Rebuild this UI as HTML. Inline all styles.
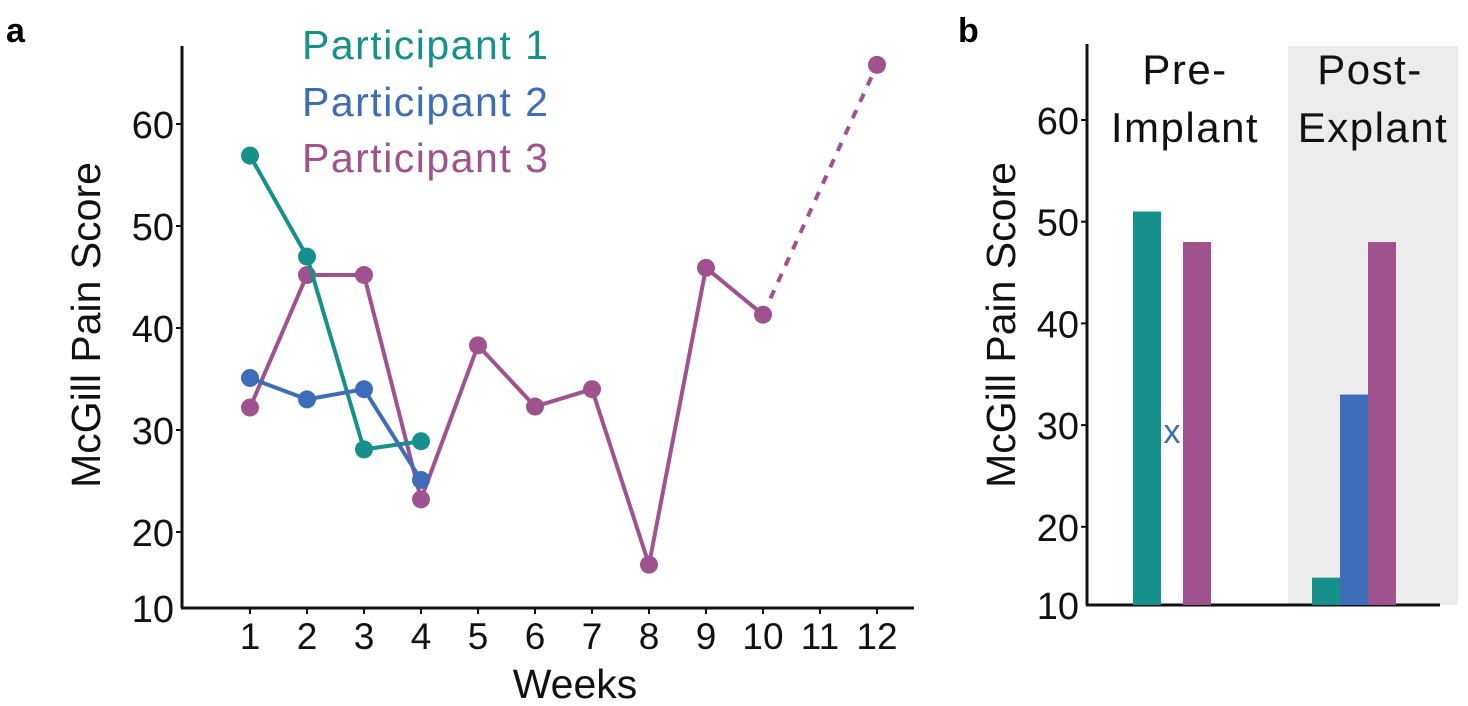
<!DOCTYPE html>
<html><head><meta charset="utf-8"><style>
html,body{margin:0;padding:0;background:#fff;}
svg{display:block;font-family:"Liberation Sans",sans-serif;}
</style></head><body>
<svg id="fig" width="1468" height="706" viewBox="0 0 1468 706">
<text x="6" y="42" font-size="34" font-weight="bold">a</text>
<text x="958" y="42" font-size="34" font-weight="bold">b</text>
<g id="pa"></g>
<g id="pb"></g>
</svg>
<script>
// Panel a data
const weeks = [1,2,3,4,5,6,7,8,9,10,11,12];
const p1Weeks = [1,2,3,4];
const p1Values = [56.9,47,28.1,28.9];
const p2Weeks = [1,2,3,4];
const p2Values = [35.1,33,34,25.1];
const p3Weeks = [1,2,3,4,5,6,7,8,9,10];
const p3Values = [32.2,45.2,45.2,23.2,38.3,32.3,34,16.8,45.9,41.3];
const p3DashWeeks = [10,12];
const p3DashValues = [41.3,65.8];
const yTicksA = [60,50,40,30,20];
// Panel b data
const groups = ["Pre-Implant","Post-Explant"];
const barP1 = [51,15];
const barP2 = [null,33];
const barP3 = [48,48];
const missingP2 = [29.3,null];
const yTicksB = [60,50,40,30,20];

const NS="http://www.w3.org/2000/svg";
const C1="#16908a",C2="#3d6cb8",C3="#a0528f";
function mk(parent,tag,attrs,name){const e=document.createElementNS(NS,tag);for(const k in attrs)e.setAttribute(k,attrs[k]);


parent.appendChild(e);return e;}

// Panel a scales
const pa=document.getElementById('pa');
const xA=w=>250+(w-1)*57.0;
const yA=v=>124+(60-v)*10.2;
mk(pa,'line',{x1:182,y1:46,x2:182,y2:608,stroke:'#111','stroke-width':3},'y-axis-line');
mk(pa,'line',{x1:181,y1:608,x2:914,y2:608,stroke:'#111','stroke-width':3},'x-axis-line');
yTicksA.forEach(t=>{
 mk(pa,'line',{x1:176,y1:yA(t),x2:182,y2:yA(t),stroke:'#111','stroke-width':2},'y-tick');
 const tx=mk(pa,'text',{x:174,y:yA(t)+14,'font-size':38,'text-anchor':'end',fill:'#111'},'y-tick-label');tx.textContent=t;
});
const b10=mk(pa,'text',{x:174,y:622,'font-size':38,'text-anchor':'end',fill:'#111'},'y-tick-label');b10.textContent=10;
weeks.forEach(w=>{
 mk(pa,'line',{x1:xA(w),y1:608,x2:xA(w),y2:614,stroke:'#111','stroke-width':2},'x-tick');
 const tx=mk(pa,'text',{x:xA(w),y:649,'font-size':37,'text-anchor':'middle',fill:'#111'},'x-tick-label');tx.textContent=w;
});
const wt=mk(pa,'text',{x:575,y:698,'font-size':41,'text-anchor':'middle',fill:'#111'},'x-axis-title');wt.textContent='Weeks';
const yt=mk(pa,'text',{x:0,y:0,'font-size':41,'text-anchor':'middle',fill:'#111',transform:'translate(100,325) rotate(-90)'},'y-axis-title');yt.textContent='McGill Pain Score';
function series(ws,vs,col,name,dash){
 const pts=ws.map((w,i)=>xA(w)+','+yA(vs[i])).join(' ');
 const a={points:pts,fill:'none',stroke:col,'stroke-width':4,'stroke-linejoin':'round'};
 if(dash)a['stroke-dasharray']='9,9';
 mk(pa,'polyline',a,name+'-line');
 ws.forEach((w,i)=>{ if(dash&&i==0)return; mk(pa,'circle',{cx:xA(w),cy:yA(vs[i]),r:9,fill:col},name+'-point');});
}
series(p3DashWeeks,p3DashValues,C3,'participant-3-projection',true);
series(p3Weeks,p3Values,C3,'participant-3');
series(p1Weeks,p1Values,C1,'participant-1');
series(p2Weeks,p2Values,C2,'participant-2');
[['Participant 1',C1,59],['Participant 2',C2,116],['Participant 3',C3,172]].forEach(l=>{
 const t=mk(pa,'text',{x:302,y:l[2],'font-size':41,'letter-spacing':1.5,fill:l[1]},'legend-entry');t.textContent=l[0];
});

// Panel b
const pb=document.getElementById('pb');
const yB=v=>120+(60-v)*10.17;
const groupX=[1133,1312];
const groupStep=[25,28];
const bw=28;
mk(pb,'rect',{x:1288,y:46,width:170,height:559,fill:'#ececec'},'post-explant-background');
mk(pb,'line',{x1:1087,y1:44,x2:1087,y2:605,stroke:'#111','stroke-width':3},'y-axis-line-b');
mk(pb,'line',{x1:1086,y1:605,x2:1440,y2:605,stroke:'#111','stroke-width':3},'x-axis-line-b');
yTicksB.forEach(t=>{
 mk(pb,'line',{x1:1081,y1:yB(t),x2:1087,y2:yB(t),stroke:'#111','stroke-width':2},'y-tick-b');
 const tx=mk(pb,'text',{x:1079,y:yB(t)+14,'font-size':38,'text-anchor':'end',fill:'#111'},'y-tick-label-b');tx.textContent=t;
});
const b10b=mk(pb,'text',{x:1079,y:619,'font-size':38,'text-anchor':'end',fill:'#111'},'y-tick-label-b');b10b.textContent=10;
const ytb=mk(pb,'text',{x:0,y:0,'font-size':41,'text-anchor':'middle',fill:'#111',transform:'translate(1015,325) rotate(-90)'},'y-axis-title-b');ytb.textContent='McGill Pain Score';
const offs=[[barP1,C1,0,'participant-1-bar'],[barP2,C2,1,'participant-2-bar'],[barP3,C3,2,'participant-3-bar']];
groups.forEach((g,gi)=>{
 offs.forEach(o=>{
  const v=o[0][gi]; if(v==null)return;
  const x=groupX[gi]+o[2]*groupStep[gi];
  mk(pb,'rect',{x:x,y:yB(v),width:bw,height:605-yB(v),fill:o[1]},o[3]);
 });
 if(missingP2[gi]!=null){
  const t=mk(pb,'text',{x:groupX[gi]+groupStep[gi]+bw/2,y:yB(missingP2[gi])+11,'font-size':34,'text-anchor':'middle',fill:C2},'missing-participant-2-marker');t.textContent='x';
 }
});
[['Pre-',1185,84],['Implant',1185,142],['Post-',1370,84],['Explant',1373,142]].forEach(l=>{
 const t=mk(pb,'text',{x:l[1],y:l[2],'font-size':42,'letter-spacing':1.5,'text-anchor':'middle',fill:'#111'},'group-label');t.textContent=l[0];
});
</script>
</body></html>
